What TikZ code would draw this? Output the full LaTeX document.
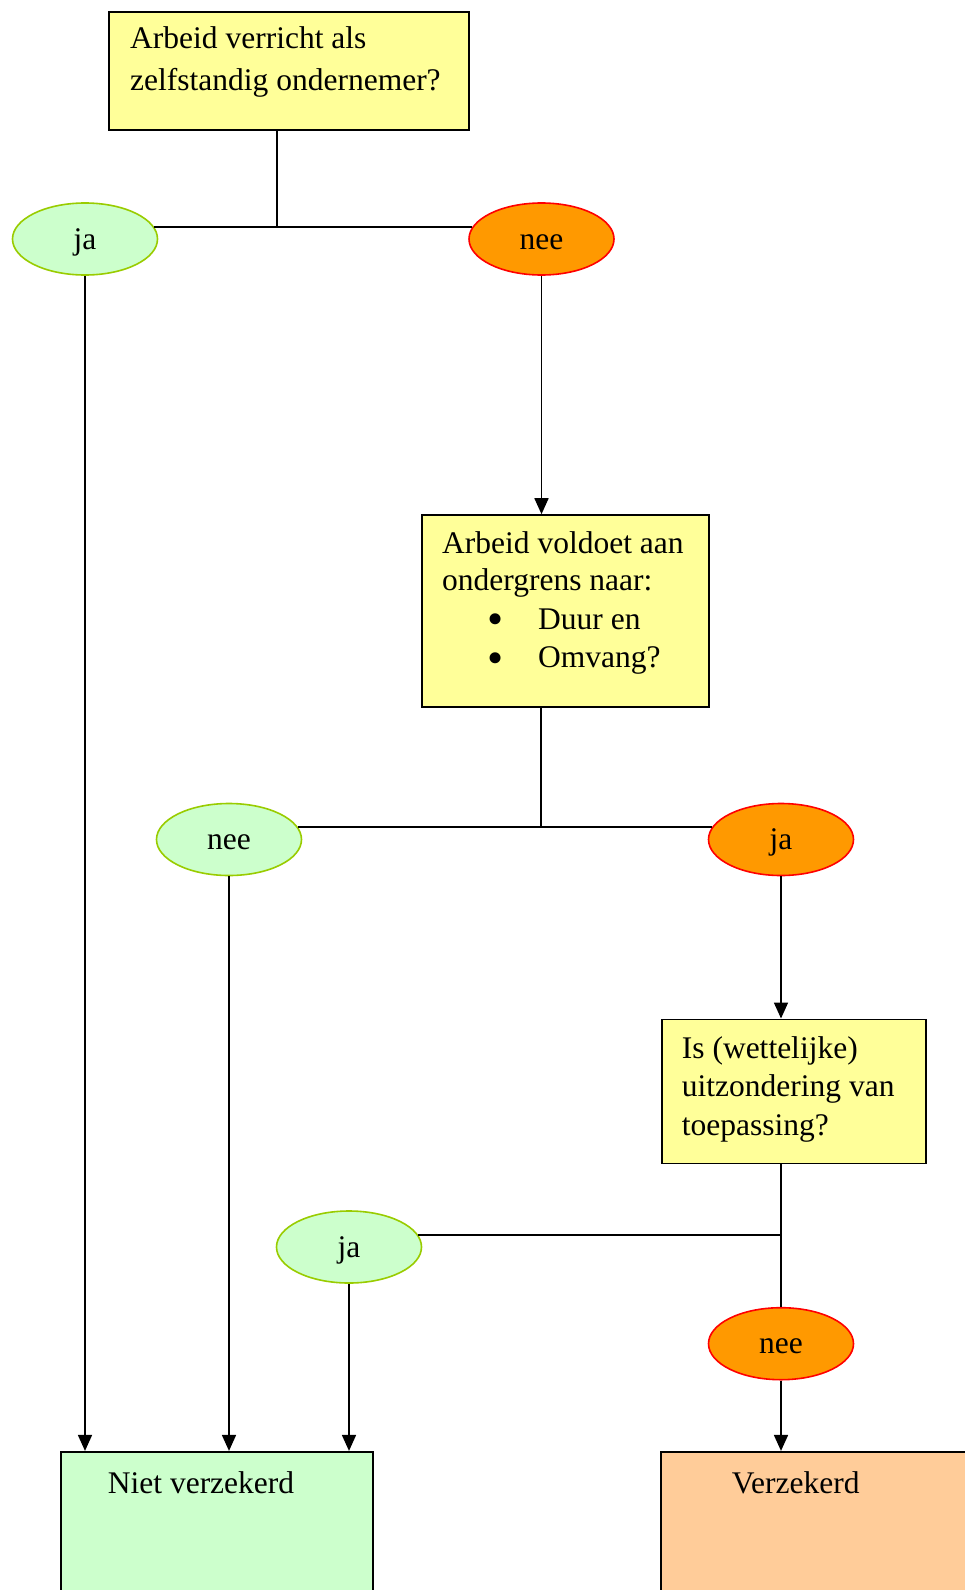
\documentclass[tikz,border=0pt]{standalone}
\usepackage{fontspec}
\setmainfont{Liberation Serif}
\usetikzlibrary{shapes.geometric,arrows.meta,calc}
\definecolor{qyellow}{RGB}{255,255,153}
\definecolor{lgreen}{RGB}{204,255,204}
\definecolor{gborder}{RGB}{153,204,0}
\definecolor{qorange}{RGB}{255,153,0}
\definecolor{rborder}{RGB}{255,0,0}
\definecolor{lorange}{RGB}{255,204,153}
\tikzset{
  qbox/.style={draw=black, line width=1.6pt, fill=qyellow, rectangle, inner sep=0pt},
  endbox/.style={draw=black, line width=1.6pt, rectangle, inner sep=0pt},
  yesno/.style={ellipse, line width=1.6pt, minimum width=145pt, minimum height=72pt, inner sep=0pt,
     font=\fontsize{31.5pt}{39pt}\selectfont, text height=20pt, text depth=0pt},
  greenell/.style={yesno, draw=gborder, fill=lgreen},
  orangeell/.style={yesno, draw=rborder, fill=qorange},
  txt/.style={anchor=base west, inner sep=0pt, font=\fontsize{31.5pt}{39pt}\selectfont},
  bul/.style={anchor=base, inner sep=0pt, font=\fontsize{46pt}{46pt}\selectfont},
  conn/.style={draw=black, line width=1.7pt},
  arr/.style={conn, -{Triangle[length=16pt,width=14pt]}}
}
\begin{document}
\begin{tikzpicture}[x=1pt,y=-1pt]
\useasboundingbox (0,0) rectangle (965,1590);
\fill[white] (0,0) rectangle (965,1590);
\clip (0,0) rectangle (965,1590);

% boxes
\node[qbox, minimum width=360pt, minimum height=118pt] (b1) at (289,71) {};
\node[qbox, minimum width=287pt, minimum height=192pt] (b2) at (565.4,611) {};
\node[qbox, minimum width=264pt, minimum height=144pt] (b3) at (793.7,1091.3) {};
\node[endbox, fill=lgreen, minimum width=312pt, minimum height=200pt] (nv) at (217.2,1551.7) {};
\node[endbox, fill=lorange, minimum width=339pt, minimum height=200pt] (vz) at (830.5,1551.7) {};

% box texts
\node[txt] (t1a) at (130,48.3) {Arbeid verricht als};
\node[txt] (t1b) at (130,90.7) {zelfstandig ondernemer?};
\node[txt] (t2a) at (442,553) {Arbeid voldoet aan};
\node[txt] (t2b) at (442,590.7) {ondergrens naar:};
\node[bul] (bu1) at (496,634.5) {•};
\node[txt] (t2c) at (538,629) {Duur en};
\node[bul] (bu2) at (496,673.2) {•};
\node[txt] (t2d) at (538,667.7) {Omvang?};
\node[txt] (t3a) at (681.7,1058.3) {Is (wettelijke)};
\node[txt] (t3b) at (681.7,1096.7) {uitzondering van};
\node[txt] (t3c) at (681.7,1135.5) {toepassing?};
\node[txt] (t4) at (107.7,1493.3) {Niet verzekerd};
\node[txt] (t5) at (731.7,1493.3) {Verzekerd};

% ellipses
\node[greenell] (ja1) at (85,239) {ja};
\node[orangeell] (nee1) at (541.5,239) {nee};
\node[greenell] (nee2) at (229,839.5) {nee};
\node[orangeell] (ja2) at (781,839.5) {ja};
\node[greenell] (ja3) at (349,1247) {ja};
\node[orangeell] (nee3) at (781,1343.7) {nee};

% junction points
\coordinate (j1) at (277,227);
\coordinate (j2) at (541,827.5);
\coordinate (j3) at (781,1235);

% connectors level 1
\draw[conn] (b1.south -| j1) -- (j1);
\draw[conn] (ja1.10) -- (nee1.170);
\draw[arr] (ja1.south) -- (ja1.south |- nv.north);
\draw[arr] (nee1.south) -- (nee1.south |- b2.north);

% level 2
\draw[conn] (b2.south -| j2) -- (j2);
\draw[conn] (nee2.10) -- (ja2.170);
\draw[arr] (nee2.south) -- (nee2.south |- nv.north);
\draw[arr] (ja2.south) -- (ja2.south |- b3.north);

% level 3
\draw[conn] (b3.south -| nee3) -- (nee3.north);
\draw[conn] (ja3.10) -- (ja3.10 -| j3);
\draw[arr] (ja3.south) -- (ja3.south |- nv.north);
\draw[arr] (nee3.south) -- (nee3.south |- vz.north);
\end{tikzpicture}
\end{document}
